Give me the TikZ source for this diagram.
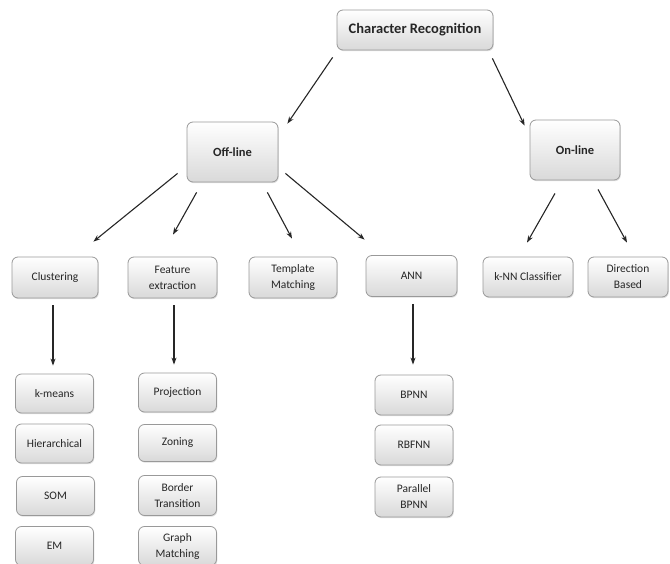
\documentclass[tikz,border=0pt]{standalone}
\usepackage{fontspec}
\setmainfont{Carlito}
\usepackage{xcolor}
\usetikzlibrary{calc,arrows.meta,shadows}
\definecolor{BoxLine}{rgb}{0.6, 0.6, 0.6}
\definecolor{BoxLow}{rgb}{0.85, 0.85, 0.85}
\definecolor{InkGray}{rgb}{0.15, 0.15, 0.15}

\begin{document}
\begin{tikzpicture}[x=1pt,y=1pt,yscale=-1,xscale=1,
	box/.style={draw=BoxLine, line width=0.8pt, rounded corners=6pt, top color=white, bottom color=BoxLow,
		drop shadow={shadow xshift=0.8pt, shadow yshift=-1.2pt, opacity=0.25},
		text=InkGray, align=center, inner sep=2pt},
	topbox/.style={box, font=\bfseries\fontsize{12.5}{15}\selectfont},
	midbox/.style={box, font=\fontsize{11.5}{16}\selectfont, minimum height=41pt},
	leafbox/.style={box, font=\fontsize{11.5}{16}\selectfont, minimum width=78pt, minimum height=39pt},
	arr/.style={-{Stealth[length=7pt,width=5pt]}, line width=1.1pt, InkGray}]
		\useasboundingbox (0,0) rectangle (670,564);

		% Root and the two main branches
		\node[topbox, font=\bfseries\fontsize{14.5}{17}\selectfont, minimum width=156pt, minimum height=40pt] (cr) at (415,30) {Character Recognition};
		\node[topbox, minimum width=91pt, minimum height=60pt] (offline) at (232.5,152) {Off-line};
		\node[topbox, minimum width=90pt, minimum height=60pt] (online) at (575,150) {On-line};

		% Second row of methods
		\node[midbox, minimum width=86pt] (clust) at (55,277.5) {Clustering};
		\node[midbox, minimum width=89pt] (feat) at (172.5,277.5) {Feature\\extraction};
		\node[midbox, minimum width=88pt] (templ) at (293,277.5) {Template\\Matching};
		\node[midbox, minimum width=91pt] (ann) at (411.5,276) {ANN};
		\node[midbox, minimum width=90pt, minimum height=40pt] (knn) at (528,277) {k-NN Classifier};
		\node[midbox, minimum width=80pt, minimum height=40pt] (dirb) at (628,277) {Direction\\Based};

		% Clustering column
		\node[leafbox] (kmeans) at (54.5,393.5) {k-means};
		\node[leafbox] (hier) at (54.5,443.5) {Hierarchical};
		\node[leafbox] (som) at (55.5,496) {SOM};
		\node[leafbox] (em) at (54.5,546) {EM};

		% Feature extraction column
		\node[leafbox] (proj) at (177.5,392.5) {Projection};
		\node[leafbox, minimum height=37pt] (zon) at (177.5,443) {Zoning};
		\node[leafbox, minimum height=40pt] (border) at (177.5,495.5) {Border\\Transition};
		\node[leafbox] (graph) at (177.5,546) {Graph\\Matching};

		% ANN column
		\node[leafbox, minimum height=40pt] (bpnn) at (414,395) {BPNN};
		\node[leafbox, minimum height=40pt] (rbfnn) at (414,445) {RBFNN};
		\node[leafbox, minimum height=40pt] (pbpnn) at (414,497) {Parallel\\BPNN};

		% Arrows from the root
		\draw[arr] ($(cr.south west)+(-4,7)$) -- ($(offline.north east)+(9,2)$);
		\draw[arr] ($(cr.south east)+(-1,8)$) -- ($(online.north west)+(-5,6)$);

		% Arrows from Off-line
		\draw[arr] ($(offline.south west)+(-9,-9)$) -- ($(clust.north east)+(-5,-15)$);
		\draw[arr] ($(offline.south west)+(10,10)$) -- ($(feat.north)+(0.5,-22)$);
		\draw[arr] ($(offline.south east)+(-11,10)$) -- ($(templ.north)+(-1,-18)$);
		\draw[arr] ($(offline.south east)+(7,-9)$) -- ($(ann.north west)+(-1,-15.5)$);

		% Arrows from On-line
		\draw[arr] ($(online.south)+(-20,13)$) -- ($(knn.north)+(-1,-14)$);
		\draw[arr] ($(online.south)+(23,9)$) -- ($(dirb.north)+(-1,-14)$);

		% Down arrows to the columns
		\draw[arr] ($(clust.south)+(-2,7)$) -- ($(kmeans.north)+(-1.5,-8)$);
		\draw[arr] ($(feat.south)+(1.5,7)$) -- ($(proj.north)+(-3.5,-8)$);
		\draw[arr] ($(ann.south)+(1.5,7)$) -- ($(bpnn.north)+(-1,-10)$);
	\end{tikzpicture}
\end{document}
